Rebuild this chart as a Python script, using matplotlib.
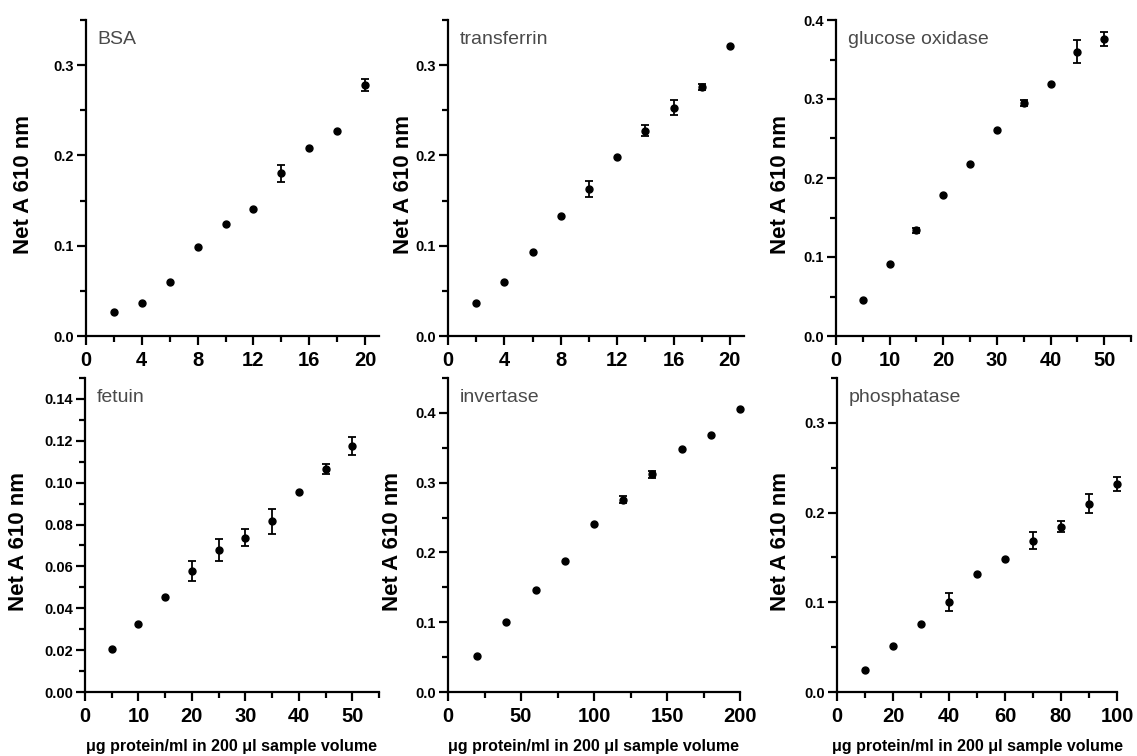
import numpy as np
import matplotlib
matplotlib.use("Agg")
import matplotlib.pyplot as plt
from matplotlib.ticker import MultipleLocator, FormatStrFormatter

plt.rcParams["font.family"] = ["Liberation Sans", "DejaVu Sans"]

# ---- data (mean and error per concentration) ----
bsa_x = [2, 4, 6, 8, 10, 12, 14, 16, 18, 20]
bsa_y = [0.027, 0.036, 0.060, 0.0985, 0.124, 0.141, 0.180, 0.208, 0.227, 0.278]
bsa_err = [0, 0, 0, 0, 0, 0, 0.009, 0, 0, 0.0065]

transferrin_x = [2, 4, 6, 8, 10, 12, 14, 16, 18, 20]
transferrin_y = [0.036, 0.060, 0.0926, 0.1326, 0.163, 0.198, 0.2274, 0.253, 0.276, 0.321]
transferrin_err = [0, 0, 0, 0, 0.0085, 0, 0.0063, 0.0085, 0.003, 0]

glucose_x = [5, 10, 15, 20, 25, 30, 35, 40, 45, 50]
glucose_y = [0.0456, 0.0907, 0.1338, 0.179, 0.2177, 0.2608, 0.295, 0.3186, 0.360, 0.3764]
glucose_err = [0, 0, 0.0034, 0, 0, 0, 0.0034, 0, 0.0143, 0.0089]

fetuin_x = [5, 10, 15, 20, 25, 30, 35, 40, 45, 50]
fetuin_y = [0.0204, 0.0326, 0.0453, 0.0576, 0.0678, 0.0738, 0.0816, 0.0955, 0.1066, 0.1174]
fetuin_err = [0, 0, 0, 0.0048, 0.0051, 0.004, 0.006, 0, 0.0025, 0.0043]

invertase_x = [20, 40, 60, 80, 100, 120, 140, 160, 180, 200]
invertase_y = [0.0519, 0.100, 0.1462, 0.188, 0.2405, 0.2757, 0.3119, 0.3486, 0.3676, 0.4052]
invertase_err = [0, 0, 0, 0, 0, 0.0052, 0.0045, 0, 0, 0]

phosphatase_x = [10, 20, 30, 40, 50, 60, 70, 80, 90, 100]
phosphatase_y = [0.0248, 0.0515, 0.0759, 0.100, 0.1315, 0.1485, 0.1685, 0.184, 0.210, 0.2319]
phosphatase_err = [0, 0, 0, 0.0102, 0, 0, 0.0093, 0.0061, 0.0104, 0.0078]

YLABEL = "Net A 610 nm"
XLABEL = "\u03bcg protein/ml in 200 \u03bcl sample volume"

W, H = 1137, 756

# name, x, y, err, xlim, xmajor, ylim, ymajor, ydecimals,
# axes box in px (left, right, top, bottom), ylabel right edge px, show xlabel
panels = [
    ("BSA", bsa_x, bsa_y, bsa_err, 21, 4, 0.35, 0.1, 1, (86, 379, 20, 336), 34, False),
    ("transferrin", transferrin_x, transferrin_y, transferrin_err, 21, 4, 0.35, 0.1, 1,
     (448, 744, 20, 336), 414, False),
    ("glucose oxidase", glucose_x, glucose_y, glucose_err, 55, 10, 0.4, 0.1, 1,
     (836, 1131, 20, 336), 791, False),
    ("fetuin", fetuin_x, fetuin_y, fetuin_err, 55, 10, 0.15, 0.02, 2, (85, 379, 378, 692), 29, True),
    ("invertase", invertase_x, invertase_y, invertase_err, 200, 50, 0.45, 0.1, 1,
     (448, 740, 378, 692), 403, True),
    ("phosphatase", phosphatase_x, phosphatase_y, phosphatase_err, 100, 20, 0.35, 0.1, 1,
     (837, 1117, 378, 692), 791, True),
]

fig = plt.figure(figsize=(W / 100, H / 100), dpi=100)

for (name, xs, ys, errs, xmax, xmaj, ymax, ymaj, ydec, box, lab_px, show_xlabel) in panels:
    l, r, t, b = box
    ax = fig.add_axes([l / W, 1 - b / H, (r - l) / W, (b - t) / H])
    x = np.asarray(xs, dtype=float)
    y = np.asarray(ys, dtype=float)
    e = np.asarray(errs, dtype=float)

    # only points with a visible spread get error bars
    m = e > 0
    ax.errorbar(x[m], y[m], yerr=e[m], fmt="none", ecolor="black",
                elinewidth=1.3, capsize=3, capthick=1.3, clip_on=False, zorder=2)
    ax.plot(x, y, "o", color="black", markersize=5, clip_on=False, zorder=3)

    ax.set_xlim(0, xmax)
    ax.set_ylim(0, ymax)
    ax.xaxis.set_major_locator(MultipleLocator(xmaj))
    ax.xaxis.set_minor_locator(MultipleLocator(xmaj / 2))
    ax.yaxis.set_major_locator(MultipleLocator(ymaj))
    ax.yaxis.set_minor_locator(MultipleLocator(ymaj / 2))
    ax.yaxis.set_major_formatter(FormatStrFormatter(f"%.{ydec}f"))
    ax.xaxis.set_major_formatter(FormatStrFormatter("%d"))

    for s in ("top", "right"):
        ax.spines[s].set_visible(False)
    for s in ("left", "bottom"):
        ax.spines[s].set_linewidth(1.6)

    ax.tick_params(which="major", direction="out", length=6.5, width=1.6)
    ax.tick_params(which="minor", direction="out", length=4.3, width=1.6)
    ax.tick_params(axis="y", which="major", pad=2, labelsize=10.5)
    ax.tick_params(axis="x", which="major", pad=4, labelsize=14.5)
    for lab in ax.get_xticklabels() + ax.get_yticklabels():
        lab.set_fontweight("bold")

    ax.set_ylabel(YLABEL, fontsize=16, fontweight="bold")
    ax.yaxis.set_label_coords((lab_px - l) / (r - l), 0.48)

    if show_xlabel:
        ax.set_xlabel(XLABEL, fontsize=11.5, fontweight="bold", labelpad=10)

    ax.annotate(name, xy=(0, 1), xycoords="axes fraction", xytext=(8.5, -8),
                textcoords="offset points", ha="left", va="top",
                fontsize=14, color="#4a4a4a")

fig.savefig("out.png", dpi=100)
